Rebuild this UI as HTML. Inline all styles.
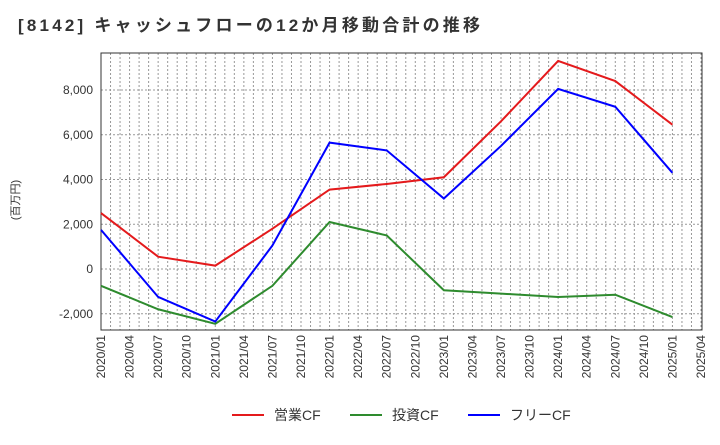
<!DOCTYPE html>
<html><head><meta charset="utf-8"><style>
body{margin:0;background:#fff;font-family:"Liberation Sans","Noto Sans CJK JP",sans-serif}
</style></head><body>
<svg id="c" width="720" height="440" xmlns="http://www.w3.org/2000/svg">
<text x="18" y="31" font-size="17" font-weight="bold" fill="#333" textLength="462" lengthAdjust="spacing">[8142]  キャッシュフローの12か月移動合計の推移</text>
<text transform="translate(19,200) rotate(-90)" font-size="11" fill="#333" text-anchor="middle">(百万円)</text>
<g id="grid"></g><g id="axes"></g><g id="lines"></g><g id="legend"></g>
</svg>
<script>
const xLabels=["2020/01","2020/04","2020/07","2020/10","2021/01","2021/04","2021/07","2021/10","2022/01","2022/04","2022/07","2022/10","2023/01","2023/04","2023/07","2023/10","2024/01","2024/04","2024/07","2024/10","2025/01","2025/04"];
const yTicks=[-2000,0,2000,4000,6000,8000];
const pointQuarters=[0,2,4,6,8,10,12,14,16,18,20];
const operatingCF=[2500,550,150,1800,3550,3800,4100,6600,9300,8400,6450];
const investingCF=[-750,-1800,-2450,-750,2100,1500,-950,-1100,-1250,-1150,-2150];
const freeCF=[1750,-1250,-2350,1050,5650,5300,3150,5500,8050,7250,4300];
const NS="http://www.w3.org/2000/svg";
const L=101,R=702,T=53,B=330;
const xq=q=>L+q*(R-1-L)/21;
const y=v=>269-v*(179/8000);
function el(p,t,a){const e=document.createElementNS(NS,t);for(const k in a)e.setAttribute(k,a[k]);document.getElementById(p).appendChild(e);return e;}
for(let m=1;m<=63;m++){const x=L+m*(R-1-L)/63;const g=el('grid','line',{x1:x,x2:x,y1:T,y2:B,stroke:'#999','stroke-dasharray':'2,2','stroke-width':1});

}
yTicks.forEach(v=>{const g=el('grid','line',{x1:L,x2:R,y1:y(v),y2:y(v),stroke:'#999','stroke-dasharray':'2,2'});


const t=el('axes','text',{x:L-8,y:y(v)+4,'text-anchor':'end','font-size':12,fill:'#333'});t.textContent=v.toLocaleString('en-US');

});
const f=el('axes','rect',{x:L,y:T,width:R-L,height:B-T,fill:'none',stroke:'#333'});


xLabels.forEach((s,i)=>{const x=xq(i);const t=el('axes','text',{transform:`translate(${x+4},${B+5}) rotate(-90)`,'text-anchor':'end','font-size':12,fill:'#333'});t.textContent=s;

});
const series=[[operatingCF,'#e41a1c','operating-cf-line','営業CF'],[investingCF,'#2e8b2e','investing-cf-line','投資CF'],[freeCF,'#0000ff','free-cf-line','フリーCF']];
series.forEach(([d,c,n])=>{const p=el('lines','polyline',{points:d.map((v,i)=>xq(pointQuarters[i])+','+y(v)).join(' '),fill:'none',stroke:c,'stroke-width':2});

});
const lx=[232,350,468];
series.forEach(([d,c,n,lab],i)=>{const l=el('legend','line',{x1:lx[i],x2:lx[i]+32,y1:415,y2:415,stroke:c,'stroke-width':2});


const t=el('legend','text',{x:lx[i]+42,y:420,'font-size':14,fill:'#333'});t.textContent=lab;

});
</script>
</body></html>
